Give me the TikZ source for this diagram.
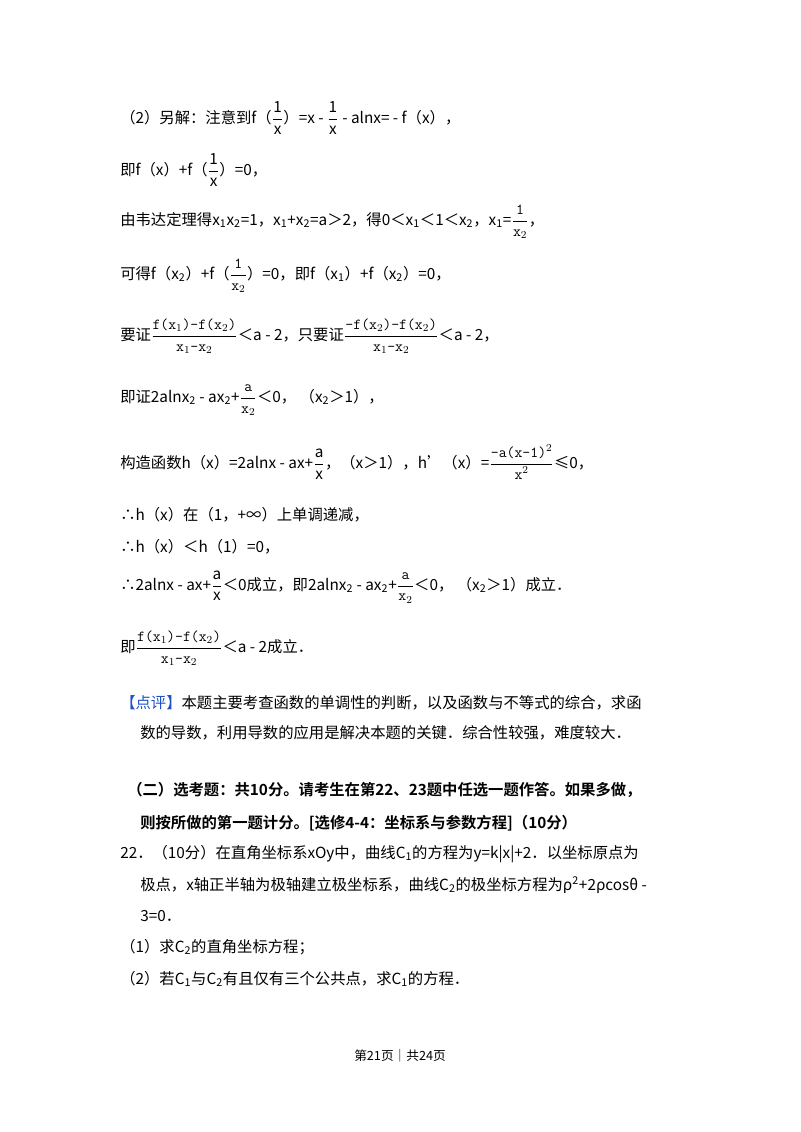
\documentclass[tikz,border=0pt]{standalone}
\usepackage{amsmath}
\usepackage{fontspec}
\setmainfont{Noto Sans CJK SC}
\newfontfamily\cjkb{Noto Sans CJK SC Bold}
\definecolor{pblue}{RGB}{30,80,200}
\newcommand{\fr}[2]{$\dfrac{\text{#1}}{\text{#2}}$}
\newcommand{\ttf}[2]{$\dfrac{\texttt{#1}}{\texttt{#2}}$}
\newcommand{\sub}[1]{\textsubscript{#1}}
\begin{document}
\begin{tikzpicture}[x=0.75pt,y=-0.75pt,every node/.style={anchor=west,inner sep=0pt,font=\fontsize{11.5}{14}\selectfont}]
\useasboundingbox (0,0) rectangle (800,1132);
\node (l1) at (120,118) {（2）另解：注意到f（\fr{1}{x}）=x - \fr{1}{x} - alnx= - f（x），};
\node (l2) at (120,170) {即f（x）+f（\fr{1}{x}）=0，};
\node (l3) at (120,222) {由韦达定理得x\sub{1}x\sub{2}=1，x\sub{1}+x\sub{2}=a＞2，得0＜x\sub{1}＜1＜x\sub{2}，x\sub{1}=\ttf{1}{x$_2$}，};
\node (l4) at (120,276) {可得f（x\sub{2}）+f（\ttf{1}{x$_2$}）=0，即f（x\sub{1}）+f（x\sub{2}）=0，};
\node (l5) at (120,336) {要证\ttf{f(x$_1$)-f(x$_2$)}{x$_1$-x$_2$}＜a - 2，只要证\ttf{-f(x$_2$)-f(x$_2$)}{x$_1$-x$_2$}＜a - 2，};
\node (l6) at (120,400) {即证2alnx\sub{2} - ax\sub{2}+\ttf{a}{x$_2$}＜0，\ （x\sub{2}＞1），};
\node (l7) at (120,462) {构造函数h（x）=2alnx - ax+\fr{a}{x}，（x＞1），h’（x）=\ttf{-a(x-1)$^2$}{x$^2$}≤0，};
\node (l8) at (120,515) {∴h（x）在（1，+∞）上单调递减，};
\node (l9) at (120,547) {∴h（x）＜h（1）=0，};
\node (l10) at (120,587) {∴2alnx - ax+\fr{a}{x}＜0成立，即2alnx\sub{2} - ax\sub{2}+\ttf{a}{x$_2$}＜0，\ （x\sub{2}＞1）成立．};
\node (l11) at (120,648) {即\ttf{f(x$_1$)-f(x$_2$)}{x$_1$-x$_2$}＜a - 2成立．};
\node (l12) at (120,703) {\textcolor{pblue}{【点评】}本题主要考查函数的单调性的判断，以及函数与不等式的综合，求函};
\node (l13) at (140,733) {数的导数，利用导数的应用是解决本题的关键．综合性较强，难度较大．};
\node (l14) at (127,790) {\cjkb （二）选考题：共10分。请考生在第22、23题中任选一题作答。如果多做，};
\node (l15) at (140,823) {\cjkb 则按所做的第一题计分。[选修4-4：坐标系与参数方程]（10分）};
\node (l16) at (120,854) {22．（10分）在直角坐标系xOy中，曲线C\sub{1}的方程为y=k|x|+2．以坐标原点为};
\node (l17) at (140,885) {极点，x轴正半轴为极轴建立极坐标系，曲线C\sub{2}的极坐标方程为ρ\textsuperscript{2}+2ρcosθ -};
\node (l18) at (140,916) {3=0．};
\node (l19) at (120,947) {（1）求C\sub{2}的直角坐标方程；};
\node (l20) at (120,979) {（2）若C\sub{1}与C\sub{2}有且仅有三个公共点，求C\sub{1}的方程．};
\node[anchor=center,font=\fontsize{9.5}{11}\selectfont] (ft) at (400,1056) {第21页｜共24页};
\end{tikzpicture}
\end{document}
